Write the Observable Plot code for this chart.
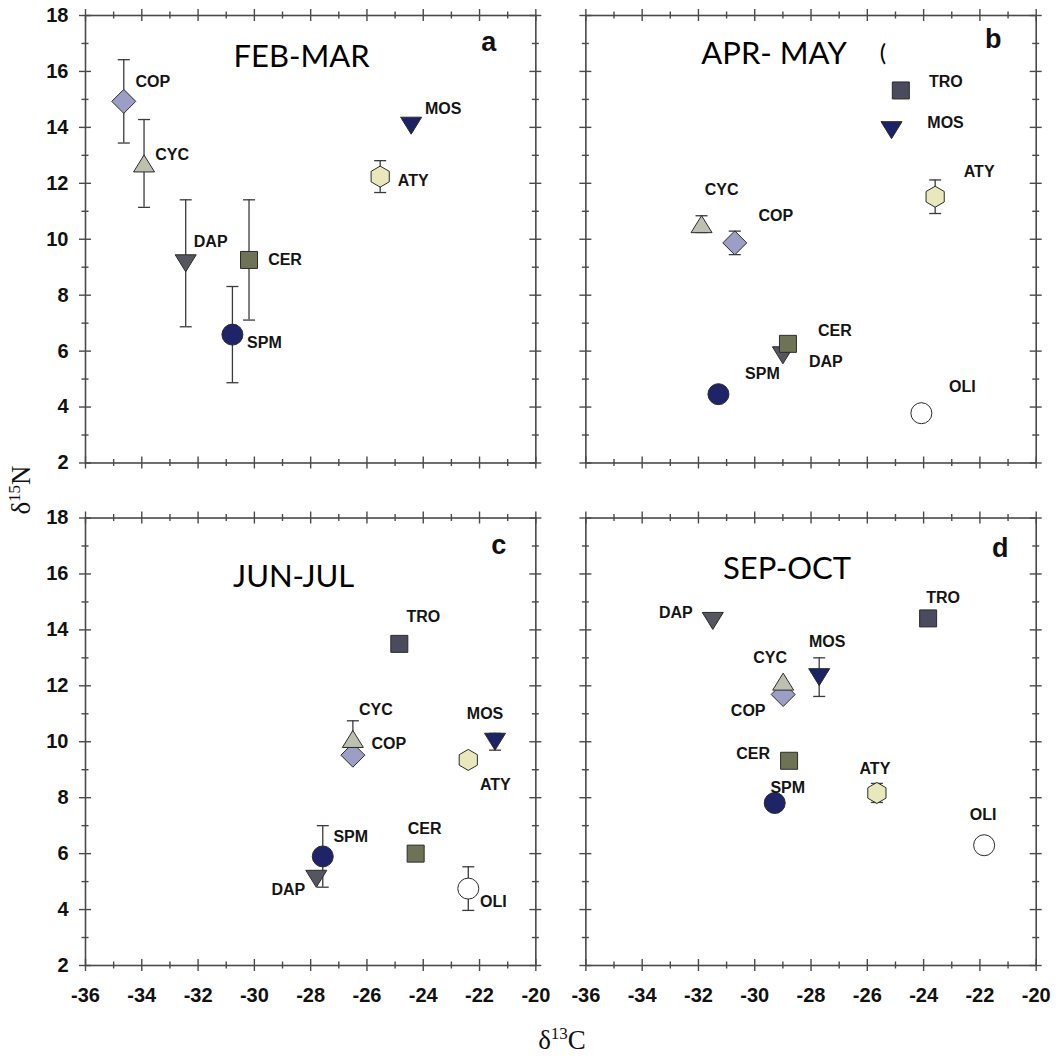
<!DOCTYPE html>
<html>
<head>
<meta charset="utf-8">
<script src="https://cdn.jsdelivr.net/npm/d3@7"></script>
<script src="https://cdn.jsdelivr.net/npm/@observablehq/plot@0.6"></script>
<style>
  html, body { margin: 0; padding: 0; background: #fff; }
  #chart { width: 1058px; height: 1057px; }
</style>
</head>
<body>
<div id="chart"></div>
<script>
// ---------------- DATA ----------------
const species = ["COP", "CYC", "DAP", "CER", "SPM", "ATY", "MOS", "TRO", "OLI"];

// Panel a: FEB-MAR
const febMar_d13C = [-34.64, -33.92, -32.44, -30.19, -30.78, -25.53, -24.43, null, null];
const febMar_d15N = [14.93, 12.71, 9.14, 9.26, 6.59, 12.24, 14.06, null, null];
const febMar_sd   = [1.49, 1.57, 2.27, 2.15, 1.72, 0.57, 0, null, null];

// Panel b: APR-MAY
const aprMay_d13C = [-30.71, -31.89, -29.0, -28.82, -31.29, -23.59, -25.14, -24.81, -24.08];
const aprMay_d15N = [9.87, 10.54, 5.85, 6.26, 4.46, 11.52, 13.9, 15.32, 3.78];
const aprMay_sd   = [0.42, 0.3, 0, 0, 0, 0.6, 0, 0, 0];

// Panel c: JUN-JUL
const junJul_d13C = [-26.5, -26.5, -27.8, -24.27, -27.57, -22.4, -21.45, -24.85, -22.4];
const junJul_d15N = [9.52, 10.1, 5.1, 6.0, 5.9, 9.35, 10.0, 13.5, 4.75];
const junJul_sd   = [0, 0.65, 0, 0, 1.1, 0, 0.3, 0, 0.78];

// Panel d: SEP-OCT
const sepOct_d13C = [-28.99, -28.99, -31.49, -28.78, -29.29, -25.66, -27.71, -23.84, -21.85];
const sepOct_d15N = [11.69, 12.15, 14.32, 9.32, 7.81, 8.17, 12.31, 14.41, 6.3];
const sepOct_sd   = [0, 0, 0, 0, 0, 0.34, 0.69, 0, 0];

const seasonTitles = ["FEB-MAR", "APR- MAY", "JUN-JUL", "SEP-OCT"];
const panelLetters = ["a", "b", "c", "d"];
const xMajorTicks = [-36, -34, -32, -30, -28, -26, -24, -22, -20];
const xMinorTicks = [-35, -33, -31, -29, -27, -25, -23, -21];
const yMajorTicks = [2, 4, 6, 8, 10, 12, 14, 16, 18];
const yMinorTicks = [3, 5, 7, 9, 11, 13, 15, 17];

// ---------------- STYLE / LAYOUT ----------------
const colors = {
  COP: "#9c9ec6", CYC: "#bcc0b0", DAP: "#55565e", CER: "#6f7356", SPM: "#1f2468",
  ATY: "#e8e8bc", MOS: "#1c2266", TRO: "#4a4b5c", OLI: "#ffffff"
};
const labelOffsets = {
  "FEB-MAR": {COP:[29,-19], CYC:[28,-9], DAP:[25,-21], CER:[36,0], SPM:[32,8], ATY:[33,4], MOS:[32,-17]},
  "APR- MAY": {TRO:[45,-9], MOS:[54,-7], ATY:[44,-25], CYC:[20,-34], COP:[41,-27], CER:[47,-13], DAP:[43,7], SPM:[44,-20], OLI:[41,-26]},
  "JUN-JUL": {TRO:[24,-27], CYC:[23,-29], COP:[36,-11], MOS:[-10,-28], ATY:[27,25], SPM:[28,-20], DAP:[-28,11], CER:[9,-25], OLI:[25,13]},
  "SEP-OCT": {DAP:[-37,-8], TRO:[15,-21], MOS:[8,-35], CYC:[-13,-24], COP:[-35,16], CER:[-36,-7], ATY:[-2,-24], SPM:[13,-15], OLI:[-1,-30]}
};
const titleLayout = [
  {dx: -9, dy: 42}, {dx: -37, dy: 39}, {dx: -17, dy: 59}, {dx: -24, dy: 51}
];
const letterLayout = [
  {dx: -47, dy: 27}, {dx: -43, dy: 24}, {dx: -37, dy: 27}, {dx: -36, dy: 30}
];

const panels = [
  {fx: "L", fy: "T", x: febMar_d13C, y: febMar_d15N, sd: febMar_sd},
  {fx: "R", fy: "T", x: aprMay_d13C, y: aprMay_d15N, sd: aprMay_sd},
  {fx: "L", fy: "B", x: junJul_d13C, y: junJul_d15N, sd: junJul_sd},
  {fx: "R", fy: "B", x: sepOct_d13C, y: sepOct_d15N, sd: sepOct_sd}
];
panels.forEach((p, i) => { p.title = seasonTitles[i]; p.letter = panelLetters[i]; });

const rows = panels.flatMap(p => species.map((s, i) => ({
  species: s, x: p.x[i], y: p.y[i], sd: p.sd[i], fx: p.fx, fy: p.fy, panel: p.title
})).filter(d => d.x != null));
const errRows = rows.filter(d => d.sd > 0);
const capRows = errRows.flatMap(d => [
  {...d, yc: d.y + d.sd}, {...d, yc: d.y - d.sd}
]);

// ---------------- SYMBOLS ----------------
const poly = (pts) => ({draw(ctx) {
  ctx.moveTo(pts[0][0], pts[0][1]);
  for (let k = 1; k < pts.length; k++) ctx.lineTo(pts[k][0], pts[k][1]);
  ctx.closePath();
}});
const symbols = {
  COP: poly([[0,-12],[12,0],[0,12],[-12,0]]),
  CYC: poly([[0,-8.5],[10.5,8.5],[-10.5,8.5]]),
  DAP: poly([[0,8.5],[10.5,-8.5],[-10.5,-8.5]]),
  CER: poly([[-8.5,-8.5],[8.5,-8.5],[8.5,8.5],[-8.5,8.5]]),
  SPM: {draw(ctx) { ctx.moveTo(10.5, 0); ctx.arc(0, 0, 10.5, 0, 2 * Math.PI); }},
  ATY: poly(d3.range(6).map(k => { const a = (-90 + 60 * k) * Math.PI / 180; return [10.5 * Math.cos(a), 10.5 * Math.sin(a)]; })),
  MOS: poly([[0,8.5],[10.5,-8.5],[-10.5,-8.5]]),
  TRO: poly([[-8.5,-8.5],[8.5,-8.5],[8.5,8.5],[-8.5,8.5]]),
  OLI: {draw(ctx) { ctx.moveTo(10.5, 0); ctx.arc(0, 0, 10.5, 0, 2 * Math.PI); }}
};
const capSymbol = {draw(ctx) { ctx.moveTo(-6, 0); ctx.lineTo(6, 0); }};

// ---------------- PLOT ----------------
const W = 1058, H = 1057;
const mL = 85, mR = 22.3, mT = 15, mB = 92;
const padX = 0.1, padY = 0.1095;
const bwX = (W - mL - mR) * (1 - padX) / (2 - padX);
const bwY = (H - mT - mB) * (1 - padY) / (2 - padY);
const tickColor = "#4a4a4a";
const font = "'Liberation Sans', Arial, sans-serif";

const marks = [
  Plot.frame({stroke: tickColor, strokeWidth: 1.6}),
  // crossing tick marks on all four sides
  Plot.tickX(xMajorTicks, {x: d => d, insetTop: bwY - 6, insetBottom: -6, stroke: tickColor, strokeWidth: 1.4}),
  Plot.tickX(xMajorTicks, {x: d => d, insetTop: -6, insetBottom: bwY - 6, stroke: tickColor, strokeWidth: 1.4}),
  Plot.tickX(xMinorTicks, {x: d => d, insetTop: bwY - 3.5, insetBottom: -3.5, stroke: tickColor, strokeWidth: 1.4}),
  Plot.tickX(xMinorTicks, {x: d => d, insetTop: -3.5, insetBottom: bwY - 3.5, stroke: tickColor, strokeWidth: 1.4}),
  Plot.tickY(yMajorTicks, {y: d => d, insetLeft: -6, insetRight: bwX - 6, stroke: tickColor, strokeWidth: 1.4}),
  Plot.tickY(yMajorTicks, {y: d => d, insetLeft: bwX - 6, insetRight: -6, stroke: tickColor, strokeWidth: 1.4}),
  Plot.tickY(yMinorTicks, {y: d => d, insetLeft: -3.5, insetRight: bwX - 3.5, stroke: tickColor, strokeWidth: 1.4}),
  Plot.tickY(yMinorTicks, {y: d => d, insetLeft: bwX - 3.5, insetRight: -3.5, stroke: tickColor, strokeWidth: 1.4}),
  // tick labels
  Plot.axisX({anchor: "bottom", ticks: xMajorTicks, tickFormat: d => String(d), tickSize: 0, tickPadding: 22, label: null,
    fontSize: 20, fontWeight: "bold", fontFamily: font, fill: "#111"}),
  Plot.axisY({anchor: "left", ticks: yMajorTicks, tickFormat: d => String(d), tickSize: 0, tickPadding: 17, label: null,
    fontSize: 20, fontWeight: "bold", fontFamily: font, fill: "#111"}),
  // error bars
  Plot.ruleX(errRows, {x: "x", y1: d => d.y - d.sd, y2: d => d.y + d.sd, fx: "fx", fy: "fy", stroke: "#3a3a3a", strokeWidth: 1.3}),
  Plot.dot(capRows, {x: "x", y: "yc", fx: "fx", fy: "fy", symbol: capSymbol, fill: "none", stroke: "#3a3a3a", strokeWidth: 1.3}),
  // markers
  ...species.map(s => Plot.dot(rows.filter(d => d.species === s), {
    x: "x", y: "y", fx: "fx", fy: "fy", symbol: symbols[s], fill: colors[s], stroke: "#2b2b2b", strokeWidth: 1
  })),
  // point labels
  ...rows.map(d => Plot.text([d], {
    x: "x", y: "y", fx: "fx", fy: "fy", text: "species",
    dx: labelOffsets[d.panel][d.species][0], dy: labelOffsets[d.panel][d.species][1],
    textAnchor: "middle", lineAnchor: "middle",
    fontSize: 16, fontWeight: "bold", fontFamily: font, fill: "#141414"
  })),
  // season titles
  ...panels.map((p, i) => Plot.text([p], {
    fx: "fx", fy: "fy", text: "title", frameAnchor: "top",
    dx: titleLayout[i].dx, dy: titleLayout[i].dy, textAnchor: "middle", lineAnchor: "middle",
    fontSize: 31, fontFamily: "Lato, 'Open Sans', sans-serif", fill: "#000"
  })),
  Plot.text([panels[1]], {fx: "fx", fy: "fy", text: () => "(", frameAnchor: "top", dx: 72, dy: 38,
    textAnchor: "middle", lineAnchor: "middle", fontSize: 24, fontFamily: "Lato, sans-serif", fill: "#000"}),
  // panel letters
  ...panels.map((p, i) => Plot.text([p], {
    fx: "fx", fy: "fy", text: "letter", frameAnchor: "top-right",
    dx: letterLayout[i].dx, dy: letterLayout[i].dy, textAnchor: "middle", lineAnchor: "middle",
    fontSize: 27, fontWeight: "bold", fontFamily: font, fill: "#111"
  }))
];

const chart = Plot.plot({
  width: W, height: H,
  marginLeft: mL, marginRight: mR, marginTop: mT, marginBottom: mB,
  style: {background: "#fff", overflow: "visible"},
  x: {domain: [-36, -20], axis: null},
  y: {domain: [2, 18], axis: null},
  fx: {domain: ["L", "R"], paddingInner: padX, paddingOuter: 0, round: false, axis: null},
  fy: {domain: ["T", "B"], paddingInner: padY, paddingOuter: 0, round: false, axis: null},
  marks
});
document.getElementById("chart").appendChild(chart);

// axis titles
const svg = d3.select(chart);
const yt = svg.append("text")
  .attr("transform", "translate(30,490) rotate(-90)")
  .attr("text-anchor", "middle")
  .attr("font-family", "'Liberation Serif', 'Times New Roman', serif")
  .attr("font-size", 27).attr("fill", "#111");
yt.append("tspan").text("δ");
yt.append("tspan").attr("dy", -10).attr("font-size", 17).text("15");
yt.append("tspan").attr("dy", 10).text("N");

const xt = svg.append("text")
  .attr("x", 562).attr("y", 1049)
  .attr("text-anchor", "middle")
  .attr("font-family", "'Liberation Serif', 'Times New Roman', serif")
  .attr("font-size", 27).attr("fill", "#111");
xt.append("tspan").text("δ");
xt.append("tspan").attr("dy", -10).attr("font-size", 17).text("13");
xt.append("tspan").attr("dy", 10).text("C");
</script>
</body>
</html>
